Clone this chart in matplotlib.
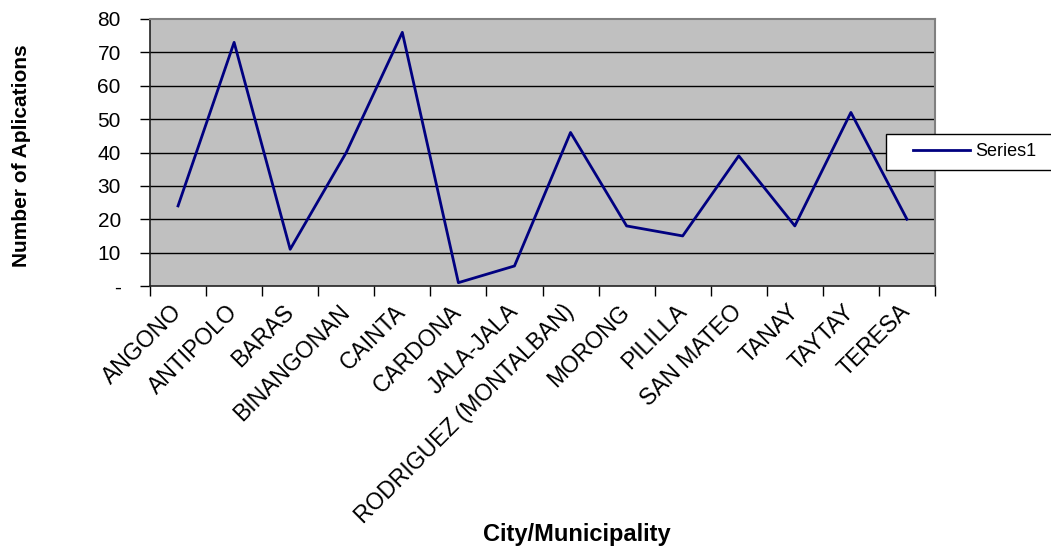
import matplotlib
matplotlib.use("Agg")
import matplotlib.pyplot as plt
from matplotlib.patches import Rectangle
import numpy as np

categories = ["ANGONO", "ANTIPOLO", "BARAS", "BINANGONAN", "CAINTA", "CARDONA",
              "JALA-JALA", "RODRIGUEZ (MONTALBAN)", "MORONG", "PILILLA",
              "SAN MATEO", "TANAY", "TAYTAY", "TERESA"]
values = [24, 73, 11, 40, 76, 1, 6, 46, 18, 15, 39, 18, 52, 20]
y_ticks = [0, 10, 20, 30, 40, 50, 60, 70, 80]
y_tick_labels = ["-", "10", "20", "30", "40", "50", "60", "70", "80"]
series_name = "Series1"

plt.rcParams['font.family'] = ['Liberation Sans', 'DejaVu Sans']

fig = plt.figure(figsize=(10.51, 5.47), dpi=100)
W, H = 1051, 547
ax = fig.add_axes([150 / W, (H - 286) / H, (935 - 150) / W, (286 - 19) / H])
ax.set_facecolor("#C0C0C0")

n = len(categories)
x = np.arange(n) + 0.5
ax.plot(x, values, color="#000080", lw=2, label=series_name, zorder=3)

ax.set_xlim(0, n)
ax.set_ylim(0, 80)
ax.set_yticks(y_ticks)
ax.set_yticklabels(y_tick_labels, fontsize=15)
for yv in y_ticks[1:-1]:
    ax.axhline(yv, color="black", lw=1, zorder=1)

ax.set_xticks(np.arange(n + 1))
ax.set_xticklabels([""] * (n + 1))
ax.set_xticks(x, minor=True)
ax.set_xticklabels(categories, minor=True, rotation=45, ha="right",
                   va="center", rotation_mode="anchor", fontsize=16.5)
ax.tick_params(axis="x", which="major", length=7, width=1, direction="out")
ax.tick_params(axis="x", which="minor", length=0, pad=16)
ax.tick_params(axis="y", length=7, width=1, direction="out", pad=14)

for s in ["top", "right"]:
    ax.spines[s].set_color("#808080")
    ax.spines[s].set_linewidth(1.5)
for s in ["left", "bottom"]:
    ax.spines[s].set_color("#222222")
    ax.spines[s].set_linewidth(1.2)

fig.text(22 / W, 1 - 156 / H, "Number of Aplications", rotation=90,
         ha="center", va="center", fontsize=15, fontweight="bold")
fig.text(577 / W, 1 - 534 / H, "City/Municipality", ha="center", va="center",
         fontsize=17, fontweight="bold")

# legend box
box = Rectangle((886 / W, (H - 170) / H), 200 / W, 36 / H,
                transform=fig.transFigure, facecolor="white",
                edgecolor="black", linewidth=1, zorder=5, clip_on=False)
ax.add_artist(box)
leg = ax.legend(loc="center left", bbox_to_anchor=(913 / W, (H - 152) / H),
                bbox_transform=fig.transFigure, fontsize=13,
                frameon=False, handlelength=3.15, handletextpad=0.3,
                borderaxespad=0, borderpad=0)
leg.set_zorder(6)

fig.savefig("out.png", dpi=100)
